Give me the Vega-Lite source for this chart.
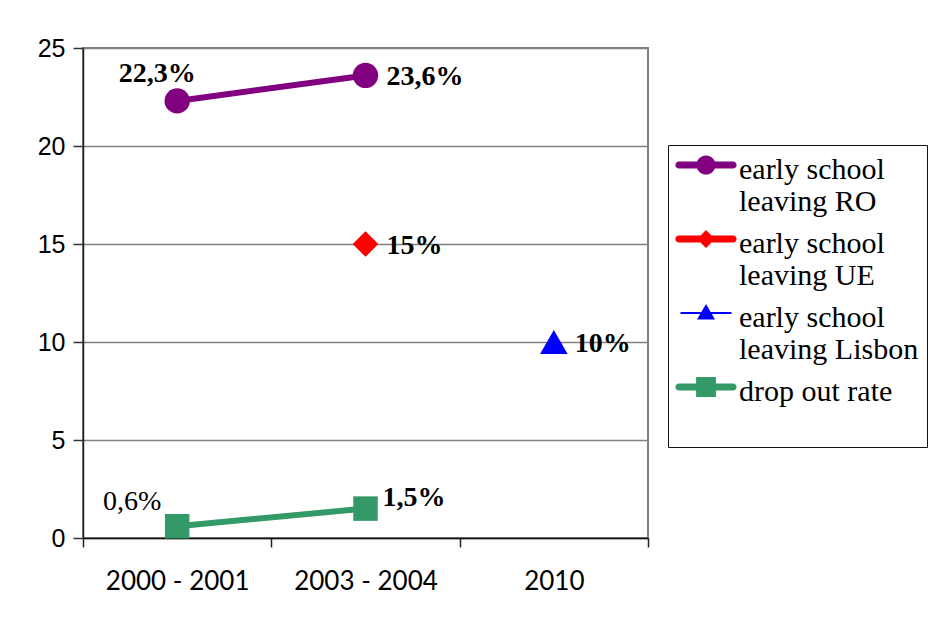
{
  "$schema": "https://vega.github.io/schema/vega-lite/v6.json",
  "autosize": {"type": "none"},
  "padding": {"left": 83, "top": 48, "right": 289, "bottom": 85},
  "width": 565,
  "height": 490,
  "background": "white",
  "data": {
    "values": [
      {"period": "2000 - 2001", "series": "early school leaving RO", "value": 22.3, "label": "22,3%"},
      {"period": "2003 - 2004", "series": "early school leaving RO", "value": 23.6, "label": "23,6%"},
      {"period": "2003 - 2004", "series": "early school leaving UE", "value": 15, "label": "15%"},
      {"period": "2010", "series": "early school leaving Lisbon", "value": 10, "label": "10%"},
      {"period": "2000 - 2001", "series": "drop out rate", "value": 0.6, "label": "0,6%"},
      {"period": "2003 - 2004", "series": "drop out rate", "value": 1.5, "label": "1,5%"}
    ]
  },
  "config": {
    "view": {"stroke": "#808080", "strokeWidth": 2},
    "axis": {"labelColor": "black", "titleColor": "black"}
  },
  "encoding": {
    "x": {
      "field": "period",
      "type": "nominal",
      "sort": ["2000 - 2001", "2003 - 2004", "2010"],
      "scale": {"domain": ["2000 - 2001", "2003 - 2004", "2010"], "paddingInner": 0, "paddingOuter": 0},
      "axis": {
        "title": null,
        "labelAngle": 0,
        "labelFont": "Lato",
        "labelFontSize": 26,
        "labelPadding": 21,
        "tickBand": "extent",
        "tickSize": 9,
        "tickColor": "#222",
        "tickWidth": 1.5,
        "domainColor": "#111",
        "domainWidth": 1.5,
        "grid": false
      }
    },
    "y": {
      "field": "value",
      "type": "quantitative",
      "scale": {"domain": [0, 25], "nice": false},
      "axis": {
        "title": null,
        "values": [0, 5, 10, 15, 20, 25],
        "labelFont": "Liberation Sans",
        "labelFontSize": 25,
        "labelPadding": 8,
        "tickSize": 10,
        "tickColor": "#333",
        "tickWidth": 1.5,
        "domainColor": "#222",
        "domainWidth": 1.5,
        "grid": true,
        "gridColor": "#808080",
        "gridWidth": 1.5
      }
    },
    "color": {
      "field": "series",
      "type": "nominal",
      "scale": {
        "domain": ["early school leaving RO", "early school leaving UE", "early school leaving Lisbon", "drop out rate"],
        "range": ["#800080", "#FF0000", "#0000FF", "#339966"]
      },
      "legend": {
        "title": null,
        "orient": "none",
        "legendX": 585,
        "legendY": 97,
        "padding": 8,
        "strokeColor": "#111",
        "fillColor": "white",
        "symbolSize": 3600,
        "symbolType": "M-0.9,-0.72H0.9V-0.48H-0.9Z",
        "labelFont": "Liberation Serif",
        "labelFontSize": 30,
        "labelLimit": 0,
        "labelOffset": 3,
        "rowPadding": 10,
        "labelExpr": "split(replace(replace(datum.label, 'school ', 'school|'), 'rate', 'rate|'), '|')",
        "encode": {
          "labels": {"update": {"lineHeight": {"value": 32}, "dy": {"value": -13}, "fill": {"value": "black"}}},
          "symbols": {
            "update": {
              "size": {"value": 3600},
              "strokeWidth": {"value": 0},
              "opacity": {"value": 1},
              "fill": {"scale": "color", "field": "value"},
              "shape": {
                "signal": "datum.value === 'early school leaving RO' ? 'M-0.9,-0.72H0.9A0.12,0.12 0 0,1 0.9,-0.48H-0.9A0.12,0.12 0 0,1 -0.9,-0.72ZM0.32,-0.6A0.32,0.32 0 1,1 -0.32,-0.6A0.32,0.32 0 1,1 0.32,-0.6Z' : datum.value === 'early school leaving UE' ? 'M-0.9,-0.72H0.9A0.12,0.12 0 0,1 0.9,-0.48H-0.9A0.12,0.12 0 0,1 -0.9,-0.72ZM0,-0.9L0.3,-0.6L0,-0.3L-0.3,-0.6Z' : datum.value === 'early school leaving Lisbon' ? 'M-0.85,-0.635H0.85V-0.565H-0.85ZM0,-0.9L0.3,-0.38L-0.3,-0.38Z' : 'M-0.9,-0.72H0.9A0.12,0.12 0 0,1 0.9,-0.48H-0.9A0.12,0.12 0 0,1 -0.9,-0.72ZM-0.33,-0.93H0.33V-0.27H-0.33Z'"
              }
            }
          }
        }
      }
    }
  },
  "layer": [
    {
      "mark": {"type": "line", "strokeWidth": 6, "strokeCap": "butt"}
    },
    {
      "transform": [{"filter": "datum.series === 'early school leaving RO'"}],
      "mark": {"type": "point", "shape": "circle", "filled": true, "opacity": 1, "size": 640}
    },
    {
      "transform": [{"filter": "datum.series === 'early school leaving UE'"}],
      "mark": {"type": "point", "shape": "diamond", "filled": true, "opacity": 1, "size": 660}
    },
    {
      "transform": [{"filter": "datum.series === 'early school leaving Lisbon'"}],
      "mark": {"type": "point", "shape": "triangle-up", "filled": true, "opacity": 1, "size": 760}
    },
    {
      "transform": [{"filter": "datum.series === 'drop out rate'"}],
      "mark": {"type": "point", "shape": "square", "filled": true, "opacity": 1, "size": 600}
    },
    {
      "transform": [{"filter": "datum.label === '22,3%'"}],
      "mark": {"type": "text", "font": "Liberation Serif", "fontSize": 28, "fontWeight": "bold", "align": "center", "baseline": "middle", "dx": -20, "dy": -27},
      "encoding": {"text": {"field": "label"}, "color": {"value": "black"}}
    },
    {
      "transform": [{"filter": "datum.label === '23,6%' || datum.label === '15%' || datum.label === '10%'"}],
      "mark": {"type": "text", "font": "Liberation Serif", "fontSize": 28, "fontWeight": "bold", "align": "left", "baseline": "middle", "dx": 21, "dy": 2},
      "encoding": {"text": {"field": "label"}, "color": {"value": "black"}}
    },
    {
      "transform": [{"filter": "datum.label === '0,6%'"}],
      "mark": {"type": "text", "font": "Liberation Serif", "fontSize": 28, "align": "center", "baseline": "middle", "dx": -45, "dy": -24},
      "encoding": {"text": {"field": "label"}, "color": {"value": "black"}}
    },
    {
      "transform": [{"filter": "datum.label === '1,5%'"}],
      "mark": {"type": "text", "font": "Liberation Serif", "fontSize": 28, "fontWeight": "bold", "align": "left", "baseline": "middle", "dx": 17, "dy": -11},
      "encoding": {"text": {"field": "label"}, "color": {"value": "black"}}
    }
  ]
}
